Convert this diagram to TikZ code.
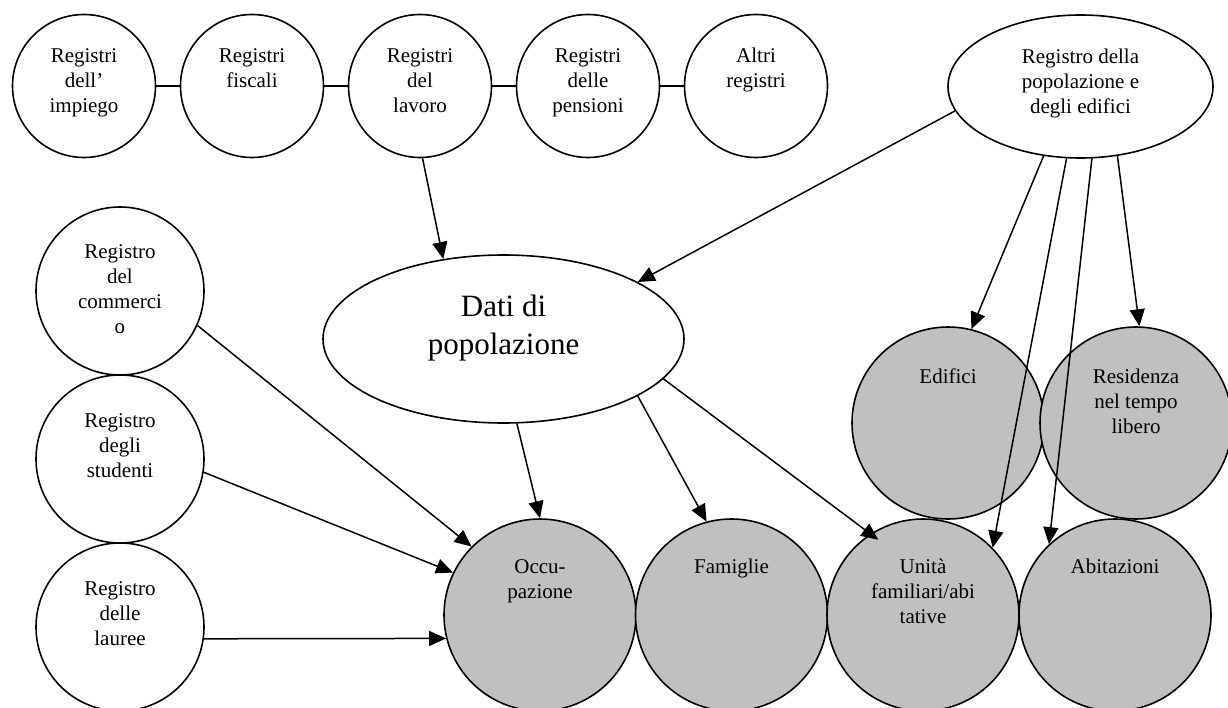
\documentclass[tikz,border=0pt]{standalone}
\usepackage{fontspec}
\setmainfont{Liberation Serif}
\usetikzlibrary{shapes.geometric,arrows.meta}
\definecolor{fillgray}{RGB}{192,192,192}
\newcommand{\smalltxt}[1]{\parbox[t]{260pt}{\centering\fontsize{21}{25}\selectfont #1}}
\newcommand{\largetxt}[1]{\parbox[t]{360pt}{\centering\fontsize{31}{37}\selectfont #1}}
\begin{document}
\begin{tikzpicture}[x=1pt,y=-1pt,
  regtop/.style={circle,draw,line width=1.6pt,fill=white,minimum size=143pt,inner sep=0pt},
  regleft/.style={circle,draw,line width=1.6pt,fill=white,minimum size=168pt,inner sep=0pt},
  outcircle/.style={circle,draw,line width=1.6pt,fill=fillgray,minimum size=192pt,inner sep=0pt},
  lbl/.style={anchor=base,inner sep=0pt},
  link/.style={line width=1.5pt},
  conn/.style={line width=1.5pt,-{Triangle[length=17pt,width=15pt]}}]
\useasboundingbox (0,0) rectangle (1228,708);

% top row of registers
\node[regtop] (c1) at (84,86) {};
\node[regtop] (c2) at (252,86) {};
\node[regtop] (c3) at (420,86) {};
\node[regtop] (c4) at (588,86) {};
\node[regtop] (c5) at (756,86) {};
\node[ellipse,draw,line width=1.6pt,fill=white,minimum width=265pt,minimum height=143pt,inner sep=0pt] (pop) at (1080.5,86.5) {};

% central ellipse
\node[ellipse,draw,line width=1.6pt,fill=white,minimum width=361pt,minimum height=168pt,inner sep=0pt] (dati) at (503.5,339) {};

% left column
\node[regleft] (com) at (120,291) {};
\node[regleft] (stu) at (120,459) {};
\node[regleft] (lau) at (120,627) {};

% grey outputs
\node[outcircle] (edi) at (948,423) {};
\node[outcircle] (res) at (1136,423) {};
\node[outcircle] (occ) at (540,615) {};
\node[outcircle] (fam) at (731.5,615) {};
\node[outcircle] (uni) at (923,615) {};
\node[outcircle] (abi) at (1115,615) {};

% texts
\node[lbl] (tc1) at (84,63) {\smalltxt{Registri\\dell’\\impiego}};
\node[lbl] (tc2) at (252,63) {\smalltxt{Registri\\fiscali}};
\node[lbl] (tc3) at (420,63) {\smalltxt{Registri\\del\\lavoro}};
\node[lbl] (tc4) at (588,63) {\smalltxt{Registri\\delle\\pensioni}};
\node[lbl] (tc5) at (756,63) {\smalltxt{Altri\\registri}};
\node[lbl] (tpop) at (1080.5,64) {\smalltxt{Registro della\\popolazione e\\degli edifici}};
\node[lbl] (tdati) at (503.5,317) {\largetxt{Dati di\\popolazione}};
\node[lbl] (tcom) at (120,259) {\smalltxt{Registro\\del\\commerci\\o}};
\node[lbl] (tstu) at (120,427) {\smalltxt{Registro\\degli\\studenti}};
\node[lbl] (tlau) at (120,595) {\smalltxt{Registro\\delle\\lauree}};
\node[lbl] (tedi) at (948,383) {\smalltxt{Edifici}};
\node[lbl] (tres) at (1136,383) {\smalltxt{Residenza\\nel tempo\\libero}};
\node[lbl] (tocc) at (540,573) {\smalltxt{Occu-\\pazione}};
\node[lbl] (tfam) at (731.5,573) {\smalltxt{Famiglie}};
\node[lbl] (tuni) at (923,573) {\smalltxt{Unità\\familiari/abi\\tative}};
\node[lbl] (tabi) at (1115,573) {\smalltxt{Abitazioni}};

% links between top registers
\draw[link] (c1.east) -- (c2.west);
\draw[link] (c2.east) -- (c3.west);
\draw[link] (c3.east) -- (c4.west);
\draw[link] (c4.east) -- (c5.west);

% arrows
\draw[conn] (c3.-88) -- (dati.127);
\draw[conn] (pop.191.6) -- (dati.23);
\draw[conn] (com.-24) -- (occ.135);
\draw[conn] (stu.-9) -- (occ.154);
\draw[conn] (lau.-8.21) -- (occ.194.48);
\draw[conn] (dati.-81) -- (occ.90);
\draw[conn] (dati.-23.3) -- (fam.105);
\draw[conn,shorten >=-10pt] (dati.-14) -- (uni.123);
\draw[conn] (pop.242) -- (edi.76);
\draw[conn] (pop.259.3) -- (uni.44.6);
\draw[conn] (pop.279.2) -- (abi.133.4);
\draw[conn] (pop.298) -- (res.88);
\end{tikzpicture}
\end{document}
